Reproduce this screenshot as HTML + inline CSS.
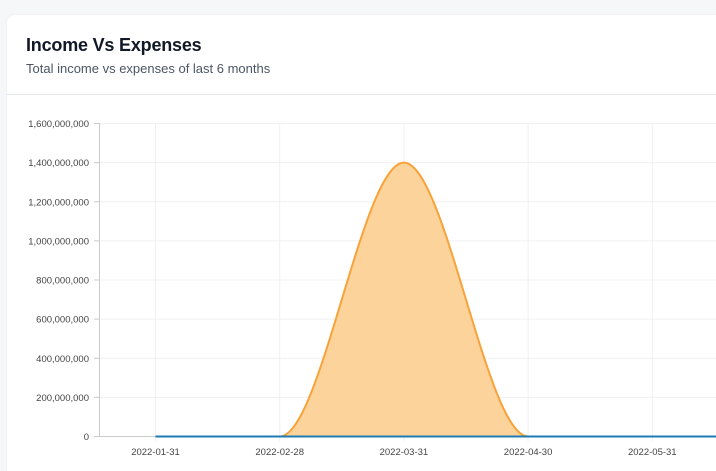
<!DOCTYPE html>
<html><head><meta charset="utf-8"><style>
html,body{margin:0;padding:0;width:716px;height:471px;overflow:hidden;background:#f6f7f9;font-family:"Liberation Sans",sans-serif}
.card{position:absolute;left:7px;top:15px;width:709px;height:456px;background:#fff;border-radius:8px 0 0 0;box-shadow:0 0 2px rgba(0,0,0,.06);overflow:hidden}
.title{position:absolute;left:19px;top:20px;font-size:18px;font-weight:bold;color:#111827;letter-spacing:-.2px}
.sub{position:absolute;left:19px;top:46px;font-size:13px;color:#4b5563}
.divider{position:absolute;left:0;top:79px;width:100%;height:1px;background:#e5e8ee}
svg{position:absolute;left:0;top:0;overflow:hidden}
</style></head><body>
<div class="card">
<div class="title">Income Vs Expenses</div>
<div class="sub">Total income vs expenses of last 6 months</div>
<div class="divider"></div>
</div>
<svg id="chart" width="716" height="471"></svg>
<script>
const categories=["2022-01-31","2022-02-28","2022-03-31","2022-04-30","2022-05-31","2022-06-30"];
const incomeValues=[0,0,1400000000,0,0,0];
const expenseValues=[0,0,0,0,0,0];
const yTicks=[0,200000000,400000000,600000000,800000000,1000000000,1200000000,1400000000,1600000000];
const NS="http://www.w3.org/2000/svg";
const svg=document.getElementById('chart');
const x0=155.5,dx=124.2,yBase=436.5,yTop=123.5,yMax=1600000000;
const X=i=>x0+i*dx;
const Y=v=>yBase-(v/yMax)*(yBase-yTop);
function mk(t,a){const e=document.createElementNS(NS,t);for(const k in a)e.setAttribute(k,a[k]);svg.appendChild(e);return e;}
yTicks.forEach(v=>{
 const g=mk('line',{x1:94,x2:716,y1:Y(v),y2:Y(v),stroke:'#f0f0f0'});
 
 
 const tk=mk('line',{x1:94,x2:100,y1:Y(v),y2:Y(v),stroke:'#ccc'});
 
 
 const t=mk('text',{x:89,y:Y(v)+3.5,'text-anchor':'end','font-size':'9.5',fill:'#444'});
 t.textContent=v.toLocaleString('en-US');
 
 
});
categories.forEach((c,i)=>{
 if(X(i)>716)return;
 const g=mk('line',{x1:X(i),x2:X(i),y1:yTop,y2:yBase+5,stroke:'#f0f0f0'});
 
 
 const t=mk('text',{x:X(i),y:455,'text-anchor':'middle','font-size':'9.5',fill:'#444'});
 t.textContent=c;
 
 
});
const ax=mk('line',{x1:99.5,x2:99.5,y1:yTop,y2:yBase,stroke:'#ccc'});


const xa=mk('line',{x1:94,x2:716,y1:yBase,y2:yBase,stroke:'#ccc'});


function monoPath(vals){
 const n=vals.length,px=vals.map((v,i)=>X(i)),py=vals.map(Y);
 const s=[];for(let i=0;i<n-1;i++)s.push((py[i+1]-py[i])/(px[i+1]-px[i]));
 const m=[];for(let i=0;i<n;i++){
  if(i==0)m.push(s[0]);else if(i==n-1)m.push(s[n-2]);
  else m.push(s[i-1]*s[i]<=0?0:2/(1/s[i-1]+1/s[i]));
 }
 let d=`M${px[0]},${py[0]}`;
 for(let i=0;i<n-1;i++){const h=(px[i+1]-px[i])/3;
  d+=` C${px[i]+h},${py[i]+m[i]*h} ${px[i+1]-h},${py[i+1]-m[i+1]*h} ${px[i+1]},${py[i+1]}`;}
 return d;
}
const ip=monoPath(incomeValues);
const area=mk('path',{d:ip+` L${X(incomeValues.length-1)},${Y(0)} L${X(0)},${Y(0)} Z`,fill:'#fdd39c'});


const il=mk('path',{d:ip,fill:'none',stroke:'#f7a33a','stroke-width':2});


const el=mk('path',{d:monoPath(expenseValues),fill:'none',stroke:'#1f7bb3','stroke-width':2});


</script>
</body></html>
